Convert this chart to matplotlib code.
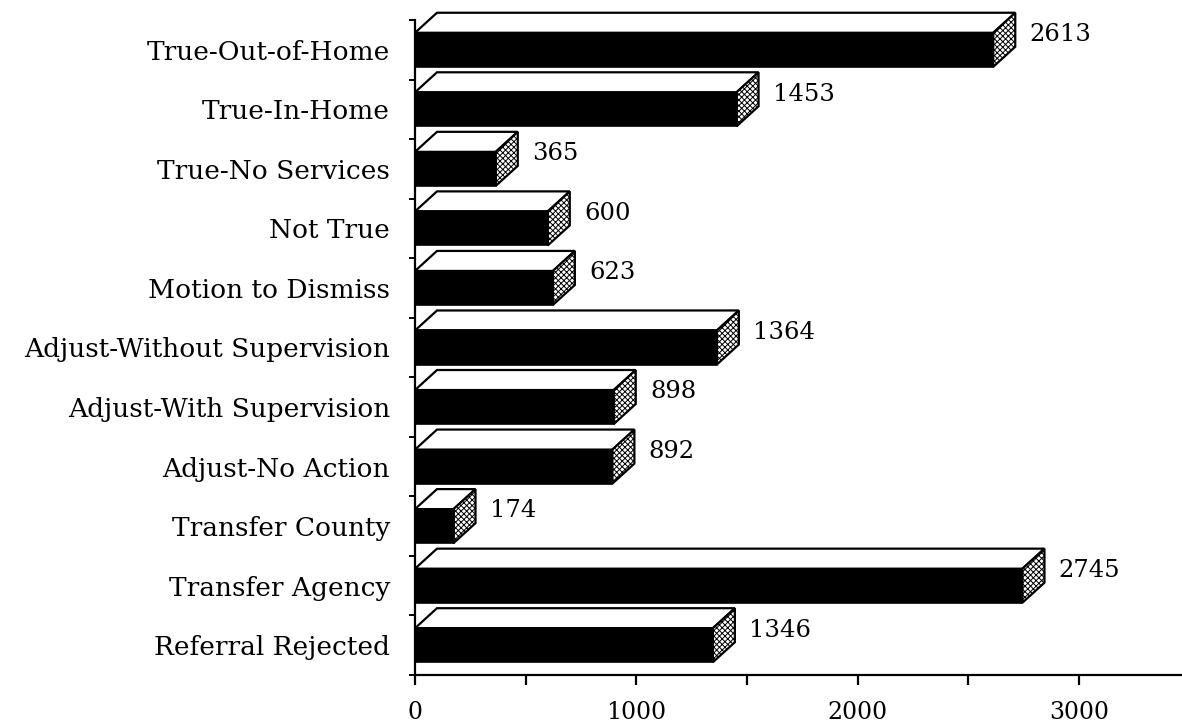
import matplotlib
matplotlib.use("Agg")
import matplotlib.pyplot as plt
from matplotlib.patches import Polygon, Rectangle
from matplotlib.ticker import FixedLocator

categories = ["True-Out-of-Home", "True-In-Home", "True-No Services", "Not True",
              "Motion to Dismiss", "Adjust-Without Supervision", "Adjust-With Supervision",
              "Adjust-No Action", "Transfer County", "Transfer Agency", "Referral Rejected"]
values = [2613, 1453, 365, 600, 623, 1364, 898, 892, 174, 2745, 1346]
x_ticks = [0, 1000, 2000, 3000]
x_minor = [500, 1500, 2500]

plt.rcParams['font.family'] = ['DejaVu Serif']
plt.rcParams['hatch.linewidth'] = 0.7

fig = plt.figure(figsize=(11.82, 7.27), dpi=100)
ax = fig.add_axes([415/1182, 52/727, 767/1182, 655/727])

n = len(categories)
xmax = 767 / 0.2213
ax.set_xlim(0, xmax)
ax.set_ylim(-0.5, n - 0.5)

h = 34 / 59.5
dy = 20 / 59.5
dx = 22 / 0.2213

for k, (cat, v) in enumerate(zip(categories, values)):
    i = n - 1 - k
    y0, y1 = i - h / 2, i + h / 2
    top = Polygon([(0, y1), (v, y1), (v + dx, y1 + dy), (dx, y1 + dy)], closed=True,
                  facecolor='white', edgecolor='black', linewidth=1.6, clip_on=False, zorder=3)
    front = Rectangle((0, y0), v, h, facecolor='black', edgecolor='black', linewidth=1.2,
                      clip_on=False, zorder=4)
    end = Polygon([(v, y0), (v, y1), (v + dx, y1 + dy), (v + dx, y0 + dy)], closed=True,
                  facecolor='white', edgecolor='black', hatch='xxxxxx', linewidth=1.6,
                  clip_on=False, zorder=3)
    ax.add_patch(top)
    ax.add_patch(end)
    ax.add_patch(front)
    ax.text(v + dx + 65, y1 - 0.03, str(v), ha='left', va='center', fontsize=17.5,
            color='black', clip_on=False)

ax.spines['top'].set_visible(False)
ax.spines['right'].set_visible(False)
ax.spines['left'].set_linewidth(1.6)
ax.spines['bottom'].set_linewidth(1.6)
ax.spines['left'].set_zorder(5)

ax.xaxis.set_major_locator(FixedLocator(x_ticks))
ax.xaxis.set_minor_locator(FixedLocator(x_minor))
ax.set_xticklabels([str(t) for t in x_ticks])
ax.tick_params(axis='x', which='both', direction='out', length=7, width=1.6,
               labelsize=17, pad=12)

ypos = [n - 1 - k for k in range(n)]
ax.yaxis.set_major_locator(FixedLocator(ypos))
ax.set_yticklabels(categories)
ax.yaxis.set_minor_locator(FixedLocator([b - 0.5 for b in range(n + 1)]))
ax.tick_params(axis='y', which='major', length=0, labelsize=19, pad=18)
ax.tick_params(axis='y', which='minor', direction='out', length=4, width=1.4)

fig.savefig("out.png", dpi=100, facecolor='white')
